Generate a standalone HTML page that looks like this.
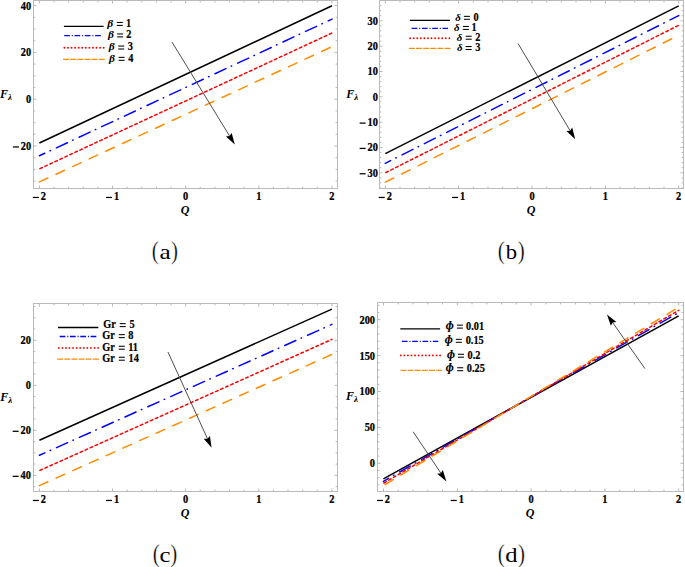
<!DOCTYPE html><html><head><meta charset="utf-8"><style>html,body{margin:0;padding:0;background:#fff;overflow:hidden;width:685px;height:567px;}svg{display:block;}text{font-family:"Liberation Serif",serif;}.tl{font-size:11.5px;font-weight:bold;stroke:#000;stroke-width:0.25px;}.lg{font-size:11.7px;font-weight:bold;stroke:#000;stroke-width:0.2px;}.gk{font-style:italic;}.ax{font-size:12px;font-weight:bold;font-style:italic;}.par{font-size:24.5px;stroke:#fff;stroke-width:0.3px;paint-order:fill;}.let{font-size:22px;}</style></head><body>
<svg width="685" height="567" viewBox="0 0 685 567">
<rect width="685" height="567" fill="#fff"/>
<g><path d="M39.4 188.5v-3M39.4 0.5v3M54.02 188.5v-1.9M54.02 0.5v1.9M68.65 188.5v-1.9M68.65 0.5v1.9M83.27 188.5v-1.9M83.27 0.5v1.9M97.9 188.5v-1.9M97.9 0.5v1.9M112.53 188.5v-3M112.53 0.5v3M127.15 188.5v-1.9M127.15 0.5v1.9M141.78 188.5v-1.9M141.78 0.5v1.9M156.4 188.5v-1.9M156.4 0.5v1.9M171.03 188.5v-1.9M171.03 0.5v1.9M185.65 188.5v-3M185.65 0.5v3M200.28 188.5v-1.9M200.28 0.5v1.9M214.9 188.5v-1.9M214.9 0.5v1.9M229.53 188.5v-1.9M229.53 0.5v1.9M244.15 188.5v-1.9M244.15 0.5v1.9M258.77 188.5v-3M258.77 0.5v3M273.4 188.5v-1.9M273.4 0.5v1.9M288.03 188.5v-1.9M288.03 0.5v1.9M302.65 188.5v-1.9M302.65 0.5v1.9M317.27 188.5v-1.9M317.27 0.5v1.9M331.9 188.5v-3M331.9 0.5v3M33.5 181.1h1.9M337.5 181.1h-1.9M33.5 169.4h1.9M337.5 169.4h-1.9M33.5 157.7h1.9M337.5 157.7h-1.9M33.5 146h3M337.5 146h-3M33.5 134.3h1.9M337.5 134.3h-1.9M33.5 122.6h1.9M337.5 122.6h-1.9M33.5 110.9h1.9M337.5 110.9h-1.9M33.5 99.2h3M337.5 99.2h-3M33.5 87.5h1.9M337.5 87.5h-1.9M33.5 75.8h1.9M337.5 75.8h-1.9M33.5 64.1h1.9M337.5 64.1h-1.9M33.5 52.4h3M337.5 52.4h-3M33.5 40.7h1.9M337.5 40.7h-1.9M33.5 29h1.9M337.5 29h-1.9M33.5 17.3h1.9M337.5 17.3h-1.9M33.5 5.6h3M337.5 5.6h-3" stroke="#b0b0b0" stroke-width="0.9" fill="none"/><rect x="33.5" y="0.5" width="304" height="188" fill="none" stroke="#bababa" stroke-width="1"/><rect x="32.86" y="196.84" width="6" height="1.25" fill="#000"/><text class="tl" transform="translate(40.76 200.4) scale(0.9 1)">2</text><rect x="105.99" y="196.84" width="6" height="1.25" fill="#000"/><text class="tl" transform="translate(113.89 200.4) scale(0.9 1)">1</text><text class="tl" transform="translate(183.06 200.4) scale(0.9 1)">0</text><text class="tl" transform="translate(256.19 200.4) scale(0.9 1)">1</text><text class="tl" transform="translate(329.31 200.4) scale(0.9 1)">2</text><rect x="12.95" y="146.34" width="6" height="1.25" fill="#000"/><text class="tl" transform="translate(20.85 149.9) scale(0.9 1)">20</text><text class="tl" transform="translate(26.02 103.1) scale(0.9 1)">0</text><text class="tl" transform="translate(20.85 56.3) scale(0.9 1)">20</text><text class="tl" transform="translate(20.85 9.5) scale(0.9 1)">40</text><path d="M39.4 143L332 5.8" stroke="#000000" stroke-width="1.5" fill="none"/><path d="M39.4 155.8L332 19.1" stroke="#0000ff" stroke-width="1.5" fill="none" stroke-dasharray="12.1 5.85 0.5 6.55" stroke-dashoffset="6.2" stroke-linecap="round"/><path d="M39.4 168.9L332 33" stroke="#ff0000" stroke-width="1.5" fill="none" stroke-dasharray="2.7 2.8" stroke-dashoffset="4.9" stroke-linecap="round"/><path d="M39.4 181.9L332 46.7" stroke="#ff8c00" stroke-width="1.5" fill="none" stroke-dasharray="9.4 8.89" stroke-dashoffset="0" stroke-linecap="round"/><path d="M63.9 26.4H103.6" stroke="#000000" stroke-width="1.3" fill="none"/><path d="M64.2 35.6H101" stroke="#0000ff" stroke-width="1.3" fill="none" stroke-dasharray="5.7 1.9 1.0 1.7"/><path d="M64.4 47.7H106.2" stroke="#ff0000" stroke-width="1.9" fill="none" stroke-dasharray="0 3.57" stroke-linecap="round"/><path d="M63.1 59.3H104.9" stroke="#ff8c00" stroke-width="1.3" fill="none" stroke-dasharray="5.9 1.24"/><text class="lg gk" text-anchor="start" transform="translate(107.3 26.8) scale(1.15 1)" style="font-size:10px;stroke:none">β</text><rect x="116.8" y="21.93" width="6" height="1.05" fill="#000"/><rect x="116.8" y="24.88" width="6" height="1.05" fill="#000"/><text class="lg" text-anchor="end" transform="translate(131.1 26.8) scale(0.88 1)">1</text><text class="lg gk" text-anchor="start" transform="translate(107.9 38.3) scale(1.15 1)" style="font-size:10px;stroke:none">β</text><rect x="117.1" y="33.42" width="6" height="1.05" fill="#000"/><rect x="117.1" y="36.38" width="6" height="1.05" fill="#000"/><text class="lg" text-anchor="end" transform="translate(131.4 38.3) scale(0.88 1)">2</text><text class="lg gk" text-anchor="start" transform="translate(108.7 50.4) scale(1.15 1)" style="font-size:10px;stroke:none">β</text><rect x="118.2" y="45.52" width="6" height="1.05" fill="#000"/><rect x="118.2" y="48.48" width="6" height="1.05" fill="#000"/><text class="lg" text-anchor="end" transform="translate(133 50.4) scale(0.88 1)">3</text><text class="lg gk" text-anchor="start" transform="translate(109 61.7) scale(1.15 1)" style="font-size:10px;stroke:none">β</text><rect x="118.6" y="56.83" width="6" height="1.05" fill="#000"/><rect x="118.6" y="59.78" width="6" height="1.05" fill="#000"/><text class="lg" text-anchor="end" transform="translate(133.3 61.7) scale(0.88 1)">4</text><path d="M172 42.1L229.62 136.06" stroke="#444" stroke-width="0.95" fill="none"/><path d="M234.8 144.5L225.89 136.47L229.62 136.06L231.69 132.92Z" fill="#000"/><text class="ax" x="0" y="97.9">F<tspan font-size="9px" dy="2">λ</tspan></text><text class="ax" x="185" y="214.2" text-anchor="middle">Q</text><text class="cap par" transform="translate(151.77 258.5) scale(0.86 1)">(</text><text class="cap par" transform="translate(171.01 258.5) scale(0.86 1)">)</text><text class="cap let" text-anchor="middle" transform="translate(165.1 258.5) scale(1.15 1)">a</text></g>
<g><path d="M385.3 188.5v-3M385.3 0.5v3M399.97 188.5v-1.9M399.97 0.5v1.9M414.64 188.5v-1.9M414.64 0.5v1.9M429.31 188.5v-1.9M429.31 0.5v1.9M443.98 188.5v-1.9M443.98 0.5v1.9M458.65 188.5v-3M458.65 0.5v3M473.32 188.5v-1.9M473.32 0.5v1.9M487.99 188.5v-1.9M487.99 0.5v1.9M502.66 188.5v-1.9M502.66 0.5v1.9M517.33 188.5v-1.9M517.33 0.5v1.9M532 188.5v-3M532 0.5v3M546.67 188.5v-1.9M546.67 0.5v1.9M561.34 188.5v-1.9M561.34 0.5v1.9M576.01 188.5v-1.9M576.01 0.5v1.9M590.68 188.5v-1.9M590.68 0.5v1.9M605.35 188.5v-3M605.35 0.5v3M620.02 188.5v-1.9M620.02 0.5v1.9M634.69 188.5v-1.9M634.69 0.5v1.9M649.36 188.5v-1.9M649.36 0.5v1.9M664.03 188.5v-1.9M664.03 0.5v1.9M678.7 188.5v-3M678.7 0.5v3M379.5 187.99h1.9M683.5 187.99h-1.9M379.5 182.92h1.9M683.5 182.92h-1.9M379.5 177.86h1.9M683.5 177.86h-1.9M379.5 172.79h3M683.5 172.79h-3M379.5 167.72h1.9M683.5 167.72h-1.9M379.5 162.66h1.9M683.5 162.66h-1.9M379.5 157.59h1.9M683.5 157.59h-1.9M379.5 152.53h1.9M683.5 152.53h-1.9M379.5 147.46h3M683.5 147.46h-3M379.5 142.39h1.9M683.5 142.39h-1.9M379.5 137.33h1.9M683.5 137.33h-1.9M379.5 132.26h1.9M683.5 132.26h-1.9M379.5 127.2h1.9M683.5 127.2h-1.9M379.5 122.13h3M683.5 122.13h-3M379.5 117.06h1.9M683.5 117.06h-1.9M379.5 112h1.9M683.5 112h-1.9M379.5 106.93h1.9M683.5 106.93h-1.9M379.5 101.87h1.9M683.5 101.87h-1.9M379.5 96.8h3M683.5 96.8h-3M379.5 91.73h1.9M683.5 91.73h-1.9M379.5 86.67h1.9M683.5 86.67h-1.9M379.5 81.6h1.9M683.5 81.6h-1.9M379.5 76.54h1.9M683.5 76.54h-1.9M379.5 71.47h3M683.5 71.47h-3M379.5 66.4h1.9M683.5 66.4h-1.9M379.5 61.34h1.9M683.5 61.34h-1.9M379.5 56.27h1.9M683.5 56.27h-1.9M379.5 51.21h1.9M683.5 51.21h-1.9M379.5 46.14h3M683.5 46.14h-3M379.5 41.07h1.9M683.5 41.07h-1.9M379.5 36.01h1.9M683.5 36.01h-1.9M379.5 30.94h1.9M683.5 30.94h-1.9M379.5 25.88h1.9M683.5 25.88h-1.9M379.5 20.81h3M683.5 20.81h-3M379.5 15.74h1.9M683.5 15.74h-1.9M379.5 10.68h1.9M683.5 10.68h-1.9M379.5 5.61h1.9M683.5 5.61h-1.9" stroke="#b0b0b0" stroke-width="0.9" fill="none"/><rect x="379.5" y="0.5" width="304" height="188" fill="none" stroke="#bababa" stroke-width="1"/><rect x="378.76" y="196.84" width="6" height="1.25" fill="#000"/><text class="tl" transform="translate(386.66 200.4) scale(0.9 1)">2</text><rect x="452.11" y="196.84" width="6" height="1.25" fill="#000"/><text class="tl" transform="translate(460.01 200.4) scale(0.9 1)">1</text><text class="tl" transform="translate(529.41 200.4) scale(0.9 1)">0</text><text class="tl" transform="translate(602.76 200.4) scale(0.9 1)">1</text><text class="tl" transform="translate(676.11 200.4) scale(0.9 1)">2</text><rect x="359.65" y="173.13" width="6" height="1.25" fill="#000"/><text class="tl" transform="translate(367.55 176.69) scale(0.9 1)">30</text><rect x="359.65" y="147.8" width="6" height="1.25" fill="#000"/><text class="tl" transform="translate(367.55 151.36) scale(0.9 1)">20</text><rect x="359.65" y="122.48" width="6" height="1.25" fill="#000"/><text class="tl" transform="translate(367.55 126.03) scale(0.9 1)">10</text><text class="tl" transform="translate(372.72 100.7) scale(0.9 1)">0</text><text class="tl" transform="translate(367.55 75.37) scale(0.9 1)">10</text><text class="tl" transform="translate(367.55 50.04) scale(0.9 1)">20</text><text class="tl" transform="translate(367.55 24.71) scale(0.9 1)">30</text><path d="M385.3 153.6L678.7 5.8" stroke="#000000" stroke-width="1.5" fill="none"/><path d="M385.3 163.3L678.7 15.6" stroke="#0000ff" stroke-width="1.5" fill="none" stroke-dasharray="12.1 5.85 0.5 6.55" stroke-dashoffset="6.2" stroke-linecap="round"/><path d="M385.3 172.8L678.7 25.3" stroke="#ff0000" stroke-width="1.5" fill="none" stroke-dasharray="2.7 2.8" stroke-dashoffset="4.9" stroke-linecap="round"/><path d="M385.3 182.2L678.7 35.3" stroke="#ff8c00" stroke-width="1.5" fill="none" stroke-dasharray="9.4 8.89" stroke-dashoffset="0" stroke-linecap="round"/><path d="M409.9 20.4H449.9" stroke="#000000" stroke-width="1.3" fill="none"/><path d="M411.6 28.3H448" stroke="#0000ff" stroke-width="1.3" fill="none" stroke-dasharray="5.7 1.9 1.0 1.7"/><path d="M410.1 38.2H452.1" stroke="#ff0000" stroke-width="1.9" fill="none" stroke-dasharray="0 3.57" stroke-linecap="round"/><path d="M408.9 48.4H451" stroke="#ff8c00" stroke-width="1.3" fill="none" stroke-dasharray="5.9 1.24"/><text class="lg gk" text-anchor="start" transform="translate(455.2 20.7) scale(1.05 1)" style="font-size:10.4px;stroke:none">δ</text><rect x="463.9" y="15.83" width="6" height="1.05" fill="#000"/><rect x="463.9" y="18.78" width="6" height="1.05" fill="#000"/><text class="lg" text-anchor="end" transform="translate(478.7 20.7) scale(0.88 1)">0</text><text class="lg gk" text-anchor="start" transform="translate(454.1 30.8) scale(1.05 1)" style="font-size:10.4px;stroke:none">δ</text><rect x="462.9" y="25.93" width="6" height="1.05" fill="#000"/><rect x="462.9" y="28.88" width="6" height="1.05" fill="#000"/><text class="lg" text-anchor="end" transform="translate(476.7 30.8) scale(0.88 1)">1</text><text class="lg gk" text-anchor="start" transform="translate(456.7 40.6) scale(1.05 1)" style="font-size:10.4px;stroke:none">δ</text><rect x="465.7" y="35.73" width="6" height="1.05" fill="#000"/><rect x="465.7" y="38.68" width="6" height="1.05" fill="#000"/><text class="lg" text-anchor="end" transform="translate(480.3 40.6) scale(0.88 1)">2</text><text class="lg gk" text-anchor="start" transform="translate(457 50.9) scale(1.05 1)" style="font-size:10.4px;stroke:none">δ</text><rect x="465.7" y="46.02" width="6" height="1.05" fill="#000"/><rect x="465.7" y="48.98" width="6" height="1.05" fill="#000"/><text class="lg" text-anchor="end" transform="translate(480.3 50.9) scale(0.88 1)">3</text><path d="M518.1 43.6L570.12 130.7" stroke="#444" stroke-width="0.95" fill="none"/><path d="M575.2 139.2L566.38 131.07L570.12 130.7L572.22 127.58Z" fill="#000"/><text class="ax" x="346.3" y="97.7">F<tspan font-size="9px" dy="2">λ</tspan></text><text class="ax" x="531.2" y="214.2" text-anchor="middle">Q</text><text class="cap par" transform="translate(497.87 258.5) scale(0.86 1)">(</text><text class="cap par" transform="translate(517.81 258.5) scale(0.86 1)">)</text><text class="cap let" text-anchor="middle" transform="translate(511.35 258.5) scale(1.03 1)">b</text></g>
<g><path d="M39.4 491.5v-3M39.4 303.5v3M54.02 491.5v-1.9M54.02 303.5v1.9M68.65 491.5v-1.9M68.65 303.5v1.9M83.27 491.5v-1.9M83.27 303.5v1.9M97.9 491.5v-1.9M97.9 303.5v1.9M112.53 491.5v-3M112.53 303.5v3M127.15 491.5v-1.9M127.15 303.5v1.9M141.78 491.5v-1.9M141.78 303.5v1.9M156.4 491.5v-1.9M156.4 303.5v1.9M171.03 491.5v-1.9M171.03 303.5v1.9M185.65 491.5v-3M185.65 303.5v3M200.28 491.5v-1.9M200.28 303.5v1.9M214.9 491.5v-1.9M214.9 303.5v1.9M229.53 491.5v-1.9M229.53 303.5v1.9M244.15 491.5v-1.9M244.15 303.5v1.9M258.77 491.5v-3M258.77 303.5v3M273.4 491.5v-1.9M273.4 303.5v1.9M288.03 491.5v-1.9M288.03 303.5v1.9M302.65 491.5v-1.9M302.65 303.5v1.9M317.27 491.5v-1.9M317.27 303.5v1.9M331.9 491.5v-3M331.9 303.5v3M33.5 486.63h1.9M337.5 486.63h-1.9M33.5 475.37h3M337.5 475.37h-3M33.5 464.11h1.9M337.5 464.11h-1.9M33.5 452.85h1.9M337.5 452.85h-1.9M33.5 441.59h1.9M337.5 441.59h-1.9M33.5 430.33h3M337.5 430.33h-3M33.5 419.08h1.9M337.5 419.08h-1.9M33.5 407.82h1.9M337.5 407.82h-1.9M33.5 396.56h1.9M337.5 396.56h-1.9M33.5 385.3h3M337.5 385.3h-3M33.5 374.04h1.9M337.5 374.04h-1.9M33.5 362.78h1.9M337.5 362.78h-1.9M33.5 351.52h1.9M337.5 351.52h-1.9M33.5 340.27h3M337.5 340.27h-3M33.5 329.01h1.9M337.5 329.01h-1.9M33.5 317.75h1.9M337.5 317.75h-1.9M33.5 306.49h1.9M337.5 306.49h-1.9" stroke="#b0b0b0" stroke-width="0.9" fill="none"/><rect x="33.5" y="303.5" width="304" height="188" fill="none" stroke="#bababa" stroke-width="1"/><rect x="32.86" y="499.84" width="6" height="1.25" fill="#000"/><text class="tl" transform="translate(40.76 503.4) scale(0.9 1)">2</text><rect x="105.99" y="499.84" width="6" height="1.25" fill="#000"/><text class="tl" transform="translate(113.89 503.4) scale(0.9 1)">1</text><text class="tl" transform="translate(183.06 503.4) scale(0.9 1)">0</text><text class="tl" transform="translate(256.19 503.4) scale(0.9 1)">1</text><text class="tl" transform="translate(329.31 503.4) scale(0.9 1)">2</text><rect x="12.65" y="475.71" width="6" height="1.25" fill="#000"/><text class="tl" transform="translate(20.55 479.27) scale(0.9 1)">40</text><rect x="12.65" y="430.68" width="6" height="1.25" fill="#000"/><text class="tl" transform="translate(20.55 434.23) scale(0.9 1)">20</text><text class="tl" transform="translate(25.72 389.2) scale(0.9 1)">0</text><text class="tl" transform="translate(20.55 344.17) scale(0.9 1)">20</text><path d="M39.4 440.3L331.9 309.1" stroke="#000000" stroke-width="1.5" fill="none"/><path d="M39.4 455.3L331.9 324.4" stroke="#0000ff" stroke-width="1.5" fill="none" stroke-dasharray="12.1 5.85 0.5 6.55" stroke-dashoffset="6.2" stroke-linecap="round"/><path d="M39.4 470.6L331.9 339.4" stroke="#ff0000" stroke-width="1.5" fill="none" stroke-dasharray="2.7 2.8" stroke-dashoffset="4.9" stroke-linecap="round"/><path d="M39.4 485.6L331.9 354.4" stroke="#ff8c00" stroke-width="1.5" fill="none" stroke-dasharray="9.4 8.89" stroke-dashoffset="0" stroke-linecap="round"/><path d="M58 327.5H98.3" stroke="#000000" stroke-width="1.3" fill="none"/><path d="M59.7 336.5H96.5" stroke="#0000ff" stroke-width="1.3" fill="none" stroke-dasharray="5.7 1.9 1.0 1.7"/><path d="M58.8 347.9H100.3" stroke="#ff0000" stroke-width="1.9" fill="none" stroke-dasharray="0 3.57" stroke-linecap="round"/><path d="M57.2 359.1H99.2" stroke="#ff8c00" stroke-width="1.3" fill="none" stroke-dasharray="5.9 1.24"/><text class="lg" text-anchor="start" transform="translate(103.3 328) scale(0.88 1)">Gr</text><rect x="119.7" y="323.12" width="6" height="1.05" fill="#000"/><rect x="119.7" y="326.08" width="6" height="1.05" fill="#000"/><text class="lg" text-anchor="end" transform="translate(134.6 328) scale(0.88 1)">5</text><text class="lg" text-anchor="start" transform="translate(102.2 339) scale(0.88 1)">Gr</text><rect x="118.8" y="334.12" width="6" height="1.05" fill="#000"/><rect x="118.8" y="337.08" width="6" height="1.05" fill="#000"/><text class="lg" text-anchor="end" transform="translate(133.3 339) scale(0.88 1)">8</text><text class="lg" text-anchor="start" transform="translate(102.2 350.6) scale(0.88 1)">Gr</text><rect x="118.8" y="345.73" width="6" height="1.05" fill="#000"/><rect x="118.8" y="348.68" width="6" height="1.05" fill="#000"/><text class="lg" text-anchor="end" transform="translate(138 350.6) scale(0.88 1)">11</text><text class="lg" text-anchor="start" transform="translate(102.2 361.6) scale(0.88 1)">Gr</text><rect x="118.8" y="356.73" width="6" height="1.05" fill="#000"/><rect x="118.8" y="359.68" width="6" height="1.05" fill="#000"/><text class="lg" text-anchor="end" transform="translate(138.8 361.6) scale(0.88 1)">14</text><path d="M168 352.1L207.5 438.79" stroke="#444" stroke-width="0.95" fill="none"/><path d="M211.6 447.8L203.74 438.74L207.5 438.79L209.93 435.93Z" fill="#000"/><text class="ax" x="0.3" y="400.8">F<tspan font-size="9px" dy="2">λ</tspan></text><text class="ax" x="185" y="517.2" text-anchor="middle">Q</text><text class="cap par" transform="translate(152.77 561.5) scale(0.86 1)">(</text><text class="cap par" transform="translate(170.21 561.5) scale(0.86 1)">)</text><text class="cap let" text-anchor="middle" transform="translate(164.9 561.5) scale(1.12 1)">c</text></g>
<g><path d="M383.5 491.5v-3M383.5 302.5v3M398.26 491.5v-1.9M398.26 302.5v1.9M413.02 491.5v-1.9M413.02 302.5v1.9M427.78 491.5v-1.9M427.78 302.5v1.9M442.54 491.5v-1.9M442.54 302.5v1.9M457.3 491.5v-3M457.3 302.5v3M472.06 491.5v-1.9M472.06 302.5v1.9M486.82 491.5v-1.9M486.82 302.5v1.9M501.58 491.5v-1.9M501.58 302.5v1.9M516.34 491.5v-1.9M516.34 302.5v1.9M531.1 491.5v-3M531.1 302.5v3M545.86 491.5v-1.9M545.86 302.5v1.9M560.62 491.5v-1.9M560.62 302.5v1.9M575.38 491.5v-1.9M575.38 302.5v1.9M590.14 491.5v-1.9M590.14 302.5v1.9M604.9 491.5v-3M604.9 302.5v3M619.66 491.5v-1.9M619.66 302.5v1.9M634.42 491.5v-1.9M634.42 302.5v1.9M649.18 491.5v-1.9M649.18 302.5v1.9M663.94 491.5v-1.9M663.94 302.5v1.9M678.7 491.5v-3M678.7 302.5v3M377.5 484.84h1.9M683.5 484.84h-1.9M377.5 477.66h1.9M683.5 477.66h-1.9M377.5 470.48h1.9M683.5 470.48h-1.9M377.5 463.3h3M683.5 463.3h-3M377.5 456.12h1.9M683.5 456.12h-1.9M377.5 448.94h1.9M683.5 448.94h-1.9M377.5 441.76h1.9M683.5 441.76h-1.9M377.5 434.58h1.9M683.5 434.58h-1.9M377.5 427.4h3M683.5 427.4h-3M377.5 420.22h1.9M683.5 420.22h-1.9M377.5 413.04h1.9M683.5 413.04h-1.9M377.5 405.86h1.9M683.5 405.86h-1.9M377.5 398.68h1.9M683.5 398.68h-1.9M377.5 391.5h3M683.5 391.5h-3M377.5 384.32h1.9M683.5 384.32h-1.9M377.5 377.14h1.9M683.5 377.14h-1.9M377.5 369.96h1.9M683.5 369.96h-1.9M377.5 362.78h1.9M683.5 362.78h-1.9M377.5 355.6h3M683.5 355.6h-3M377.5 348.42h1.9M683.5 348.42h-1.9M377.5 341.24h1.9M683.5 341.24h-1.9M377.5 334.06h1.9M683.5 334.06h-1.9M377.5 326.88h1.9M683.5 326.88h-1.9M377.5 319.7h3M683.5 319.7h-3M377.5 312.52h1.9M683.5 312.52h-1.9M377.5 305.34h1.9M683.5 305.34h-1.9" stroke="#b0b0b0" stroke-width="0.9" fill="none"/><rect x="377.5" y="302.5" width="306" height="189" fill="none" stroke="#bababa" stroke-width="1"/><rect x="376.96" y="499.84" width="6" height="1.25" fill="#000"/><text class="tl" transform="translate(384.86 503.4) scale(0.9 1)">2</text><rect x="450.76" y="499.84" width="6" height="1.25" fill="#000"/><text class="tl" transform="translate(458.66 503.4) scale(0.9 1)">1</text><text class="tl" transform="translate(528.51 503.4) scale(0.9 1)">0</text><text class="tl" transform="translate(602.31 503.4) scale(0.9 1)">1</text><text class="tl" transform="translate(676.11 503.4) scale(0.9 1)">2</text><text class="tl" transform="translate(369.82 467.2) scale(0.9 1)">0</text><text class="tl" transform="translate(364.65 431.3) scale(0.9 1)">50</text><text class="tl" transform="translate(359.48 395.4) scale(0.9 1)">100</text><text class="tl" transform="translate(359.48 359.5) scale(0.9 1)">150</text><text class="tl" transform="translate(359.48 323.6) scale(0.9 1)">200</text><path d="M383.4 478.9L678.7 315.8" stroke="#000000" stroke-width="1.5" fill="none"/><path d="M383.4 481.3L678.7 312.6" stroke="#0000ff" stroke-width="1.5" fill="none" stroke-dasharray="12.1 5.85 0.5 6.55" stroke-dashoffset="6.2" stroke-linecap="round"/><path d="M383.4 483.3L678.7 310.3" stroke="#ff0000" stroke-width="1.5" fill="none" stroke-dasharray="2.7 2.8" stroke-dashoffset="4.9" stroke-linecap="round"/><path d="M383.4 485.6L678.7 307.2" stroke="#ff8c00" stroke-width="1.5" fill="none" stroke-dasharray="9.4 8.89" stroke-dashoffset="-2.1" stroke-linecap="round"/><path d="M400.3 328.8H440.1" stroke="#000000" stroke-width="1.3" fill="none"/><path d="M401.9 341.3H438.3" stroke="#0000ff" stroke-width="1.3" fill="none" stroke-dasharray="5.7 1.9 1.0 1.7"/><path d="M400.8 355.4H442" stroke="#ff0000" stroke-width="1.9" fill="none" stroke-dasharray="0 3.57" stroke-linecap="round"/><path d="M400.5 370.3H442.2" stroke="#ff8c00" stroke-width="1.3" fill="none" stroke-dasharray="5.9 1.24"/><text class="lg gk" text-anchor="start" transform="translate(445.8 329.5) scale(0.95 1)" style="font-size:12.5px;stroke:none" dy="-1">ɸ</text><rect x="456.9" y="324.62" width="6" height="1.05" fill="#000"/><rect x="456.9" y="327.58" width="6" height="1.05" fill="#000"/><text class="lg" text-anchor="end" transform="translate(484.1 329.5) scale(0.88 1)">0.01</text><text class="lg gk" text-anchor="start" transform="translate(444.7 343.7) scale(0.95 1)" style="font-size:12.5px;stroke:none" dy="-1">ɸ</text><rect x="455.8" y="338.82" width="6" height="1.05" fill="#000"/><rect x="455.8" y="341.78" width="6" height="1.05" fill="#000"/><text class="lg" text-anchor="end" transform="translate(483.7 343.7) scale(0.88 1)">0.15</text><text class="lg gk" text-anchor="start" transform="translate(446.9 358.6) scale(0.95 1)" style="font-size:12.5px;stroke:none" dy="-1">ɸ</text><rect x="458" y="353.73" width="6" height="1.05" fill="#000"/><rect x="458" y="356.68" width="6" height="1.05" fill="#000"/><text class="lg" text-anchor="end" transform="translate(480.4 358.6) scale(0.88 1)">0.2</text><text class="lg gk" text-anchor="start" transform="translate(445.8 372.1) scale(0.95 1)" style="font-size:12.5px;stroke:none" dy="-1">ɸ</text><rect x="457.2" y="367.23" width="6" height="1.05" fill="#000"/><rect x="457.2" y="370.18" width="6" height="1.05" fill="#000"/><text class="lg" text-anchor="end" transform="translate(484.8 372.1) scale(0.88 1)">0.25</text><path d="M413.2 431.8L440.89 473.17" stroke="#444" stroke-width="0.95" fill="none"/><path d="M446.4 481.4L437.18 473.73L440.89 473.17L442.83 469.95Z" fill="#000"/><path d="M644.9 368.6L612.67 322.51" stroke="#444" stroke-width="0.95" fill="none"/><path d="M607 314.4L616.38 321.88L612.67 322.51L610.8 325.77Z" fill="#000"/><text class="ax" x="346" y="400">F<tspan font-size="9px" dy="2">λ</tspan></text><text class="ax" x="530.2" y="517.2" text-anchor="middle">Q</text><text class="cap par" transform="translate(497.77 561.5) scale(0.86 1)">(</text><text class="cap par" transform="translate(517.91 561.5) scale(0.86 1)">)</text><text class="cap let" text-anchor="middle" transform="translate(511.3 561.5) scale(1.12 1)">d</text></g>
</svg></body></html>
